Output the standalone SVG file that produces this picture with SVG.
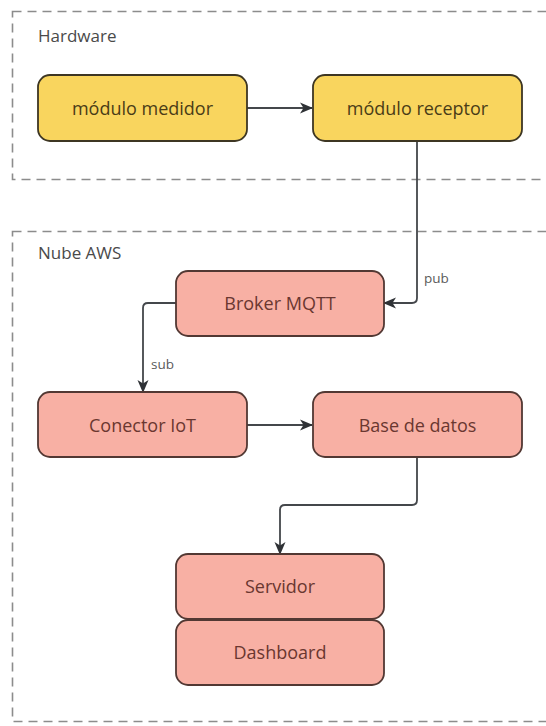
<svg xmlns="http://www.w3.org/2000/svg" width="546" height="726" viewBox="0 0 546 726">
  <defs>
    <marker id="arrow" viewBox="0 0 13 13" refX="12" refY="6.5" markerWidth="13" markerHeight="13" markerUnits="userSpaceOnUse" orient="auto">
      <path d="M0,1 L13,6.5 L0,12 L3.5,6.5 Z" fill="#2f3236"/>
    </marker>
    <style>
      .frame { fill: none; stroke: #8c8c8c; stroke-width: 1.6; stroke-dasharray: 9 6; }
      .frame-label { font-family: "Open Sans", "Noto Sans", sans-serif; font-size: 17px; fill: #4a4a4a; }
      .yellow rect { fill: #f9d55e; stroke: #3d3623; stroke-width: 1.8; }
      .yellow text { fill: #4a3c17; }
      .pink rect { fill: #f8b0a4; stroke: #523833; stroke-width: 1.8; }
      .pink text { fill: #6a3730; }
      .node text { font-family: "Open Sans", "Noto Sans", sans-serif; font-size: 18px; text-anchor: middle; dominant-baseline: central; }
      .edge { fill: none; stroke: #44474b; stroke-width: 1.8; marker-end: url(#arrow); }
      .edge-label { font-family: "Open Sans", "Noto Sans", sans-serif; font-size: 13.5px; fill: #5a5a5a; }
    </style>
  </defs>
  <rect width="546" height="726" fill="#ffffff"/>

  <!-- grouping frames -->
  <g id="frame-hardware">
    <rect class="frame" x="12.5" y="11.5" width="600" height="168"/>
    <text class="frame-label" x="38" y="42">Hardware</text>
  </g>
  <g id="frame-aws">
    <rect class="frame" x="12.5" y="231.5" width="600" height="490"/>
    <text class="frame-label" x="38" y="259">Nube AWS</text>
  </g>

  <!-- connectors -->
  <g id="connectors">
    <path class="edge" d="M247 108 H312"/>
    <path class="edge" d="M417 141 V298 Q417 303 412 303 H384"/>
    <path class="edge" d="M176 303 H148 Q143 303 143 308 V392"/>
    <path class="edge" d="M247 425 H312"/>
    <path class="edge" d="M417 457 V500 Q417 505 412 505 H285 Q280 505 280 510 V554"/>
    <text class="edge-label" x="424" y="283">pub</text>
    <text class="edge-label" x="151" y="369">sub</text>
  </g>

  <!-- nodes -->
  <g id="modulo-medidor" class="node yellow">
    <rect x="38" y="75" width="209" height="66" rx="12"/>
    <text x="142.5" y="108">módulo medidor</text>
  </g>
  <g id="modulo-receptor" class="node yellow">
    <rect x="313" y="75" width="209" height="66" rx="12"/>
    <text x="417.5" y="108">módulo receptor</text>
  </g>
  <g id="broker-mqtt" class="node pink">
    <rect x="176" y="271" width="208" height="65" rx="12"/>
    <text x="280" y="303">Broker MQTT</text>
  </g>
  <g id="conector-iot" class="node pink">
    <rect x="38" y="392" width="209" height="65" rx="12"/>
    <text x="142.5" y="425">Conector IoT</text>
  </g>
  <g id="base-de-datos" class="node pink">
    <rect x="313" y="392" width="209" height="65" rx="12"/>
    <text x="417.5" y="425">Base de datos</text>
  </g>
  <g id="servidor" class="node pink">
    <rect x="176" y="554" width="208" height="65" rx="12"/>
    <text x="280" y="586">Servidor</text>
  </g>
  <g id="dashboard" class="node pink">
    <rect x="176" y="620" width="208" height="65" rx="12"/>
    <text x="280" y="652">Dashboard</text>
  </g>
</svg>
